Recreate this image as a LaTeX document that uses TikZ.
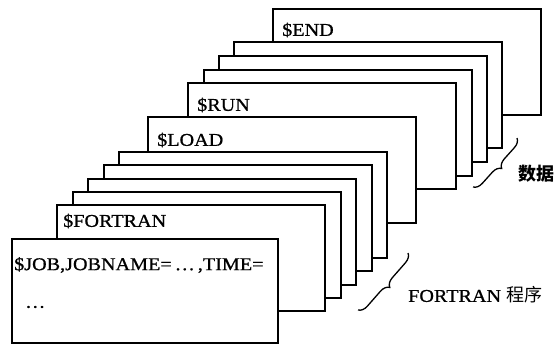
\documentclass[tikz,border=0pt]{standalone}
\usepackage{fontspec}
\setmainfont{Liberation Serif}
\newfontfamily\cjk{Noto Sans CJK SC}
\newfontfamily\widefont[FakeStretch=1.12,FakeBold=0.8]{Liberation Serif}
\usetikzlibrary{decorations.pathreplacing}
\begin{document}
\begin{tikzpicture}[x=1pt,y=-1pt,
  card/.style={draw, line width=1.5pt, fill=white, anchor=north west,
    minimum width=268pt, minimum height=106pt, inner sep=0pt, outer sep=0pt},
  lbl/.style={anchor=west, inner sep=0pt, font=\widefont\fontsize{18}{18}\selectfont},
  curly/.style={decorate, decoration={brace, amplitude=9pt}, line width=1.3pt}]
\useasboundingbox (0,0) rectangle (557,345);
% data cards (back to front)
\node[card] (cEnd) at (273,9) {};
\node[card] (cD3) at (234,42) {};
\node[card] (cD2) at (219,56) {};
\node[card] (cD1) at (204,70) {};
\node[card] (cRun) at (188,83) {};
\node[card] (cLoad) at (148,117) {};
% FORTRAN program cards
\node[card] (cP4) at (119,152) {};
\node[card] (cP3) at (104,165) {};
\node[card] (cP2) at (88,179) {};
\node[card] (cP1) at (73,192) {};
\node[card] (cFor) at (57,205) {};
\node[card, minimum width=266pt, minimum height=104pt] (cJob) at (12,239) {};
% card texts
\node[lbl] (tEnd) at (282,30) {\$END};
\node[lbl] (tRun) at (197,105) {\$RUN};
\node[lbl] (tLoad) at (157,140) {\$LOAD};
\node[lbl] (tFor) at (63,221) {\$FORTRAN};
\node[lbl] (tJob) at (14,265) {\$JOB,JOBNAME=\,\dots\,,TIME=};
\node[lbl] (tDots) at (25,307) {\dots};
% braces and labels
\coordinate (dA) at (517,138);
\coordinate (dB) at (473,187);
\draw[curly] (dA) -- (dB);
\node[anchor=west, inner sep=0pt, font=\cjk\bfseries\fontsize{18}{18}\selectfont] (tData) at (518,174) {数据};
\coordinate (pA) at (408,253);
\coordinate (pB) at (358,310);
\draw[curly] (pA) -- (pB);
\node[lbl] (tProg) at (408,295) {FORTRAN {\cjk\fontsize{18}{18}\selectfont 程序}};
\end{tikzpicture}
\end{document}
